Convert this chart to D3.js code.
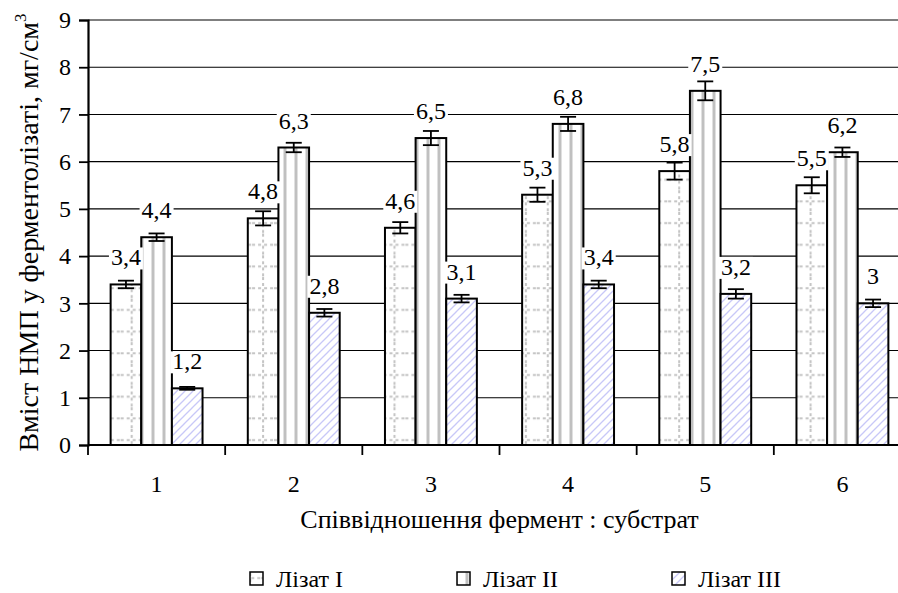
<html>
  <head>
	<meta charset="utf-8">
	<title>Вміст НМП у ферментолізаті</title>
	<script src="https://d3js.org/d3.v7.min.js"></script>
	<style>
	  body { margin: 0; background: #fff; }
	</style>
  </head>
  <body>

  <svg width="898" height="593"></svg>

	<script type="text/javascript">

    // дані
    var categorias = ["1", "2", "3", "4", "5", "6"];
    var series = ["Лізат I", "Лізат II", "Лізат III"];
    var lizat1 = [3.4, 4.8, 4.6, 5.3, 5.8, 5.5];
    var lizat2 = [4.4, 6.3, 6.5, 6.8, 7.5, 6.2];
    var lizat3 = [1.2, 2.8, 3.1, 3.4, 3.2, 3.0];
    var erro1 = [0.08, 0.15, 0.12, 0.15, 0.18, 0.17];
    var erro2 = [0.08, 0.1, 0.15, 0.15, 0.2, 0.1];
    var erro3 = [0.03, 0.08, 0.08, 0.08, 0.1, 0.08];
    var yTicks = [0, 1, 2, 3, 4, 5, 6, 7, 8, 9];

    var valores = [lizat1, lizat2, lizat3];
    var erros = [erro1, erro2, erro3];

    var meusdados = [];
    for (var s = 0; s < series.length; ++s) {
        for (var i = 0; i < categorias.length; ++i) {
            meusdados.push({cat: categorias[i], serie: series[s], s: s, v: valores[s][i], e: erros[s][i]});
        }
    }

    var fonte = "'Liberation Serif', 'Times New Roman', Times, serif";
    var margem = {left: 88, right: 911, top: 20, bottom: 445};

    var escalaX = d3.scaleBand().domain(categorias).range([margem.left, margem.right]).paddingInner(0.33).paddingOuter(0.165);
    var escalaSub = d3.scaleBand().domain(series).range([0, escalaX.bandwidth()]);
    var escalaY = d3.scaleLinear().domain([0, 9]).range([margem.bottom, margem.top]);

    var svg = d3.select("svg");

    // padrões
    var defs = svg.append("defs");
    var p1 = defs.append("pattern").attr("id", "p1").attr("patternUnits", "userSpaceOnUse")
        .attr("width", 21.9).attr("height", 21.7).attr("x", 120.7).attr("y", margem.bottom - 16);
    p1.append("rect").attr("width", 21.9).attr("height", 21.7).attr("fill", "#fff");
    p1.append("line").attr("x1", 11).attr("x2", 11).attr("y1", 0).attr("y2", 21.7)
        .attr("stroke", "#c4c4c4").attr("stroke-width", 2).attr("stroke-dasharray", "3,3");
    p1.append("line").attr("x1", 0).attr("x2", 21.9).attr("y1", 11).attr("y2", 11)
        .attr("stroke", "#c4c4c4").attr("stroke-width", 2).attr("stroke-dasharray", "3,3");

    var p2 = defs.append("pattern").attr("id", "p2").attr("patternUnits", "userSpaceOnUse")
        .attr("width", 11).attr("height", 11).attr("x", 151.5);
    p2.append("rect").attr("width", 11).attr("height", 11).attr("fill", "#fff");
    p2.append("rect").attr("x", 0).attr("width", 3).attr("height", 11).attr("fill", "#c0c0c0");

    var p3 = defs.append("pattern").attr("id", "p3").attr("patternUnits", "userSpaceOnUse")
        .attr("width", 8).attr("height", 8);
    p3.append("rect").attr("width", 8).attr("height", 8).attr("fill", "#fff");
    p3.append("path").attr("d", "M-1,9 L9,-1 M-3,3 L3,-3 M5,11 L11,5")
        .attr("stroke", "#c8c8f8").attr("stroke-width", 1.3);

    var padroes = ["url(#p1)", "url(#p2)", "url(#p3)"];

    // linhas de grade
    svg.append("g").selectAll("line").data(yTicks.slice(1)).enter().append("line")
        .attr("x1", margem.left).attr("x2", 898)
        .attr("y1", d => escalaY(d)).attr("y2", d => escalaY(d))
        .attr("stroke", "#000").attr("stroke-width", 1.1);

    // barras
    var grupo = svg.append("g");
    grupo.selectAll("rect").data(meusdados).enter().append("rect")
        .attr("x", d => escalaX(d.cat) + escalaSub(d.serie))
        .attr("y", d => escalaY(d.v))
        .attr("width", escalaSub.bandwidth())
        .attr("height", d => escalaY(0) - escalaY(d.v))
        .attr("fill", d => padroes[d.s])
        .attr("stroke", "#000").attr("stroke-width", 2);

    // barras de erro
    var erroG = svg.append("g").attr("stroke", "#000").attr("stroke-width", 1.8);
    meusdados.forEach(function(d) {
        var cx = escalaX(d.cat) + escalaSub(d.serie) + escalaSub.bandwidth() / 2;
        var y1 = escalaY(d.v + d.e), y2 = escalaY(d.v - d.e);
        erroG.append("line").attr("x1", cx).attr("x2", cx).attr("y1", y1).attr("y2", y2);
        erroG.append("line").attr("x1", cx - 8).attr("x2", cx + 8).attr("y1", y1).attr("y2", y1);
        erroG.append("line").attr("x1", cx - 8).attr("x2", cx + 8).attr("y1", y2).attr("y2", y2);
    });

    // rótulos
    var fmt = v => String(v).replace(".", ",");
    var rotulos = svg.append("g").selectAll("g").data(meusdados).enter().append("g")
        .attr("transform", d => "translate(" + (escalaX(d.cat) + escalaSub(d.serie) + escalaSub.bandwidth() / 2) + "," + (escalaY(d.v) - 19) + ")");
    rotulos.append("text").attr("text-anchor", "middle").style("font-family", fonte).style("font-size", "24px")
        .text(d => fmt(d.v))
        .each(function() {
            var b = this.getBBox();
            d3.select(this.parentNode).insert("rect", "text")
                .attr("x", b.x - 2).attr("y", b.y + 3).attr("width", b.width + 4).attr("height", b.height - 4)
                .attr("fill", "#fff");
        });

    // eixo Y
    var eixoY = d3.axisLeft(escalaY).tickValues(yTicks).tickSize(9).tickPadding(8).tickFormat(d3.format("d"));
    var grupoDoEixoY = svg.append("g").attr("transform", "translate(" + margem.left + ",0)").call(eixoY);
    grupoDoEixoY.select(".domain").attr("stroke-width", 2.2);
    grupoDoEixoY.selectAll(".tick line").attr("stroke-width", 1.8);
    grupoDoEixoY.selectAll("text").style("font-family", fonte).style("font-size", "24px");

    // eixo X
    var eixoX = d3.axisBottom(escalaX).tickSize(0).tickPadding(30);
    var grupoDoEixoX = svg.append("g").attr("transform", "translate(0," + margem.bottom + ")").call(eixoX);
    grupoDoEixoX.select(".domain").attr("d", "M" + margem.left + ",0H898").attr("stroke-width", 2.2);
    grupoDoEixoX.selectAll("text").style("font-family", fonte).style("font-size", "24px");
    grupoDoEixoX.selectAll(".sep").data(categorias).enter().append("line").attr("class", "sep")
        .attr("x1", d => escalaX(d) - escalaX.step() * escalaX.paddingInner() / 2)
        .attr("x2", d => escalaX(d) - escalaX.step() * escalaX.paddingInner() / 2)
        .attr("y1", 0).attr("y2", 10).attr("stroke", "#000").attr("stroke-width", 1.8);

    // títulos
    svg.append("text").attr("x", (margem.left + margem.right) / 2).attr("y", 528).attr("text-anchor", "middle")
        .style("font-family", fonte).style("font-size", "26px")
        .text("Співвідношення фермент : субстрат");

    var tituloY = svg.append("text").attr("transform", "translate(38," + ((margem.top + margem.bottom) / 2) + ") rotate(-90)")
        .attr("text-anchor", "middle").style("font-family", fonte).style("font-size", "28px");
    tituloY.append("tspan").text("Вміст НМП у ферментолізаті, мг/см");
    tituloY.append("tspan").style("font-size", "17px").attr("dy", -12).text("3");

    // legenda
    var legenda = svg.append("g").selectAll("g").data(series).enter().append("g")
        .attr("transform", (d, i) => "translate(" + [250, 457, 672][i] + ",572)");
    legenda.append("rect").attr("width", 13).attr("height", 13)
        .attr("fill", (d, i) => padroes[i]).attr("stroke", "#000").attr("stroke-width", 1.5);
    legenda.append("text").attr("x", 26).attr("y", 15).style("font-family", fonte).style("font-size", "24px").text(d => d);

	</script>
  </body>

</html>
